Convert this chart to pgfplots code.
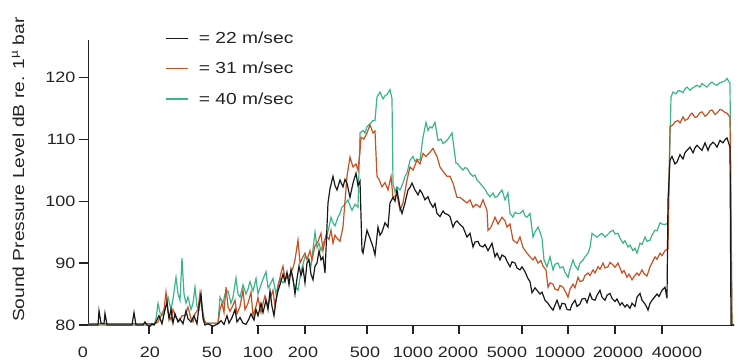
\documentclass[border=0pt]{standalone}
\usepackage{fontspec}
\setmainfont{Liberation Sans}[FakeStretch=1.2]
\usepackage{pgfplots}
\pgfplotsset{compat=1.18}
\definecolor{cblack}{RGB}{25,25,25}
\definecolor{corange}{RGB}{200,80,35}
\definecolor{cgreen}{RGB}{60,180,140}
\definecolor{ctext}{RGB}{35,35,35}
\begin{document}
\begin{tikzpicture}
\path[use as bounding box] (-88pt,-35pt) rectangle (651pt,325pt);
\begin{axis}[
  at={(0pt,0pt)}, anchor=south west,
  scale only axis, width=647pt, height=285pt,
  xmin=0, xmax=647, ymin=80, ymax=126,
  clip=false,
  axis x line*=bottom, axis y line*=left,
  axis line style={line width=0.9pt, ctext},
  x axis line style={draw=none},
  xtick pos=bottom, ytick pos=left,
  tick align=outside, major tick length=9pt,
  every tick/.style={line width=1pt, draw=ctext},
  xtick style={draw=ctext, line width=1.1pt},
  ytick style={draw=ctext, line width=1.1pt},
  ytick={80,90,100,110,120},
  yticklabel style={anchor=east},
  xtick={61,124,170,217,279,325,371,434,480,527,574},
  xticklabels={},
  extra x ticks={0,62,124,170,215,277,325,370,419,472,530,589},
  extra x tick labels={\hbox to 0pt{\hss 0\hskip 10pt\hss},20,50,100,200,500,1000,2000,5000,10000,20000,40000},
  extra x tick style={major tick length=0pt, xticklabel style={yshift=-18pt}},
  tick label style={font=\fontsize{15}{17}\selectfont, text=ctext},
  /pgf/number format/assume math mode=true,
  ylabel={Sound Pressure Level dB re. 1\textsuperscript{µ} bar},
  ylabel style={at={(axis description cs:-0.108,0.545)}, anchor=center, font=\fontsize{16}{18}\selectfont, text=ctext},
  legend style={at={(0.12,1.035)}, anchor=north west, draw=none, fill=none, inner sep=0pt,
    row sep=13pt, font=\fontsize{16}{18}\selectfont, text=ctext},
  legend cell align=left,
  reverse legend,
  legend image code/.code={\draw[#1, line width=1.1pt] (0pt,0pt) -- (22pt,0pt);},
  /tikz/every odd column/.append style={column sep=8pt},
]
\addplot[cgreen, line width=1.2pt] coordinates {
(0,80) (66,80) (68,81) (70,83.5) (72,82) (75,81.5) (78,83) (80,84.5) (83,82.5) (85,84.2) (88,87.7) (90,85) (92,84) (94,90.8) (96,85) (98,83.5) (100,84.5) (103,82.5) (105,83.5) (107,86.1) (109,83) (111,82.5) (113,84.5) (115,82) (117,80.3) (130,80.3) (132,84.5) (135,83.5) (137,85) (140,85.5) (143,83.5) (145,84.5) (148,87.6) (150,85) (152,84.5) (155,86.5) (158,85) (160,85.8) (162,87) (165,85.5) (168,87.5) (170,85) (173,86.5) (175,87.4) (178,88.6) (180,86) (182,86.5) (185,87.5) (188,85) (190,86.5) (192,87.5) (195,86.8) (198,87.5) (200,87.5) (203,88.6) (206,86.5) (210,85.6) (213,88.6) (217,91) (220,90.8) (223,89.5) (227,95) (229,92.5) (231,93.2) (233,92) (236,93.5) (239,94.5) (241,95.8) (243,97.4) (245,96.5) (247,96) (250,97.4) (252,98) (254,99) (257,99.5) (260,100.2) (262,99.3) (264,98.5) (267,99.5) (270,99) (272,111) (275,111.4) (277,111) (279,112) (282,112.5) (285,113) (287,113) (289,116.8) (292,117.6) (295,116.5) (297,117) (299,117.2) (302,118) (304,116.5) (305,102.9) (307,101.5) (309,102.3) (312,101.8) (315,102.9) (317,104) (319,104.5) (322,106.6) (325,107.2) (327,106.4) (329,106.8) (332,106.6) (335,110.3) (338,112.7) (340,111.4) (342,112) (344,111.8) (347,112.7) (350,109.8) (353,110) (355,109.3) (357,109.5) (360,110) (362,110.5) (364,111) (366,108.5) (368,106.1) (370,106) (372,105.5) (375,105) (377,105.4) (379,105.3) (382,104.5) (385,104) (387,104.2) (389,103.4) (392,102.9) (395,102.3) (397,101.9) (399,101.3) (402,100.7) (405,101.3) (407,100.6) (409,100.7) (412,101.4) (414,101.8) (417,100.2) (420,101.3) (422,98) (425,97.4) (427,98.2) (429,98) (432,98) (435,98.5) (437,97.6) (439,97.4) (442,98) (445,94.2) (447,95) (450,95.8) (452,95) (454,94) (456,90.5) (459,89.4) (462,91) (465,88.9) (467,89.8) (470,90) (472,89.2) (475,89.4) (477,88.5) (480,87.7) (482,89) (485,90.5) (487,89.6) (490,88.9) (492,90) (495,90.5) (497,91) (500,91.6) (502,92.5) (504,94.8) (507,94.4) (509,94.2) (512,94.6) (514,94.8) (517,94.2) (519,94.5) (522,95) (525,95.3) (527,94.7) (530,94.8) (532,94) (535,93.2) (537,93.6) (540,92.6) (542,92.9) (545,92) (547,92.4) (549,91.6) (552,93.2) (554,93) (557,94.2) (559,93.5) (562,93.7) (564,94.5) (567,95.3) (569,95.2) (572,96.5) (574,96.3) (577,96.2) (580,96.5) (583,116.8) (585,117.6) (588,117.3) (590,117.8) (592,117.8) (595,117.5) (597,118.1) (599,118.4) (602,117.9) (604,118.2) (607,118.5) (609,118.7) (612,118.4) (614,119) (617,118.6) (619,118.4) (622,119) (624,119.2) (627,118.8) (629,118.7) (632,119.1) (634,119.2) (637,119.4) (639,119.8) (642,119) (644,80) (646,80)
};
\addlegendentry{= 40 m/sec}
\addplot[corange, line width=1.2pt] coordinates {
(0,80.2) (66,80.2) (68,80.3) (70,80.5) (73,81.5) (76,82.5) (78,85.3) (80,82) (83,80.8) (85,82.5) (88,81.2) (91,80.6) (94,81.5) (97,81.5) (100,82.9) (103,81) (105,80.5) (107,81.8) (110,82.5) (112,85.2) (114,82.5) (116,80.8) (118,80.3) (130,80.3) (132,82.5) (134,83.5) (136,82) (138,86.1) (140,83) (142,82.2) (145,83.2) (147,84) (149,81.8) (152,83) (155,85.6) (157,82.5) (160,83.5) (163,85.3) (165,81.5) (168,83) (170,84.4) (173,82) (175,83.5) (177,84.7) (180,83) (182,84.2) (185,85.6) (187,83) (190,86) (193,88.4) (195,89.5) (197,87.5) (200,87.7) (203,88.5) (205,89.2) (207,90.5) (210,93.7) (212,90) (215,91) (217,91.6) (219,90.5) (222,92) (224,90.5) (227,92.8) (230,93.5) (233,94.8) (235,92) (238,94.5) (241,93.8) (243,95.3) (245,93.2) (247,94.5) (249,94) (252,93.5) (255,95.8) (257,100) (259,104) (262,107.1) (265,105.5) (268,106) (270,105) (272,108) (273,110.3) (276,110) (279,111) (282,112.3) (285,111) (287,111.3) (289,104) (291,103.5) (294,102.3) (297,103) (300,101.8) (303,104) (305,100.6) (309,101) (312,98.5) (315,99.7) (319,103.4) (322,105.5) (325,105) (329,106.6) (332,106) (335,107.7) (338,107.2) (342,107.9) (345,108.5) (349,107.2) (352,105.5) (355,104.8) (359,104) (362,104) (365,102.9) (369,100.6) (372,100.6) (375,100.2) (379,99.7) (382,100.2) (385,99) (388,99.5) (392,99) (395,100.2) (399,98.5) (400,95.3) (403,95.8) (407,97.4) (410,96.3) (414,97.4) (417,96.8) (419,95.8) (422,96.3) (425,93.7) (429,93.2) (432,94.2) (435,92.5) (439,91.6) (442,91) (445,90.5) (447,91) (450,90) (453,90.4) (455,89.5) (458,88.9) (460,86.1) (462,86.8) (465,86.6) (467,85.8) (470,85.6) (472,86.4) (475,86.1) (478,85.2) (480,84.5) (482,85.8) (485,86.6) (487,86) (490,87.7) (492,87) (495,87.2) (497,88) (500,88.4) (502,88) (505,88.9) (507,88.4) (510,89.4) (512,89) (515,90) (517,89.2) (520,89.4) (522,90.1) (525,89.7) (527,89.3) (530,90) (532,89.2) (534,88.4) (536,88.8) (539,87.7) (541,88.2) (544,87.3) (546,87.8) (549,88.4) (551,88) (554,88.9) (556,88.3) (559,87.9) (562,89.4) (564,90) (567,91) (569,90.6) (572,91.6) (574,91.2) (577,92) (580,92.3) (582,112) (585,112.3) (587,112.8) (590,113) (592,112.6) (595,113.6) (597,113) (600,113.3) (602,113.9) (604,114.2) (607,113.5) (609,113.6) (612,114.3) (614,114.4) (617,113.7) (619,113.9) (622,114.6) (624,114.7) (627,114) (629,114.2) (632,114.8) (634,114.7) (637,114.3) (639,114.2) (642,113.5) (644,80) (646,80)
};
\addlegendentry{= 31 m/sec}
\addplot[cblack, line width=1.2pt] coordinates {
(0,80) (10,80) (11,82.3) (13,80.3) (16,80.2) (17,81.9) (19,80) (44,80) (46,82) (48,80) (55,80) (57,80.5) (59,80) (62,79.8) (64,80.2) (66,80) (68,80.5) (71,81.5) (74,80.2) (77,82.5) (79,83.7) (81,81) (83,82.5) (85,80.3) (87,81.8) (90,80.5) (92,81) (95,80.2) (98,82.3) (100,81) (103,80.5) (106,81.5) (109,80.2) (111,83) (113,85) (115,81) (117,80) (120,80.2) (125,79.8) (130,80.2) (133,80.7) (136,80.1) (139,81.5) (141,80.3) (144,81.2) (147,82.5) (149,80.5) (152,81.2) (155,80.3) (158,80.1) (161,81) (163,81.8) (166,80.8) (168,82.5) (170,81.5) (173,83.5) (175,82) (178,84) (180,82.5) (182,85.5) (184,83) (186,81.5) (188,84) (190,85.5) (192,86.5) (195,88.2) (197,87) (199,88.5) (201,86.5) (203,89) (205,87.5) (207,85) (209,87.5) (211,89.5) (213,88) (215,89.2) (217,86.8) (219,90) (221,90.5) (223,88.2) (225,87.3) (227,89.5) (229,90) (231,92) (233,90.5) (235,91) (237,88.4) (240,99.7) (242,102) (245,104) (247,102.5) (249,101.8) (252,103.4) (255,102.3) (257,103.5) (259,102.9) (262,100.6) (265,102.9) (268,104.5) (270,102.5) (272,103.2) (274,92) (275,91.6) (277,93.5) (279,95.3) (282,94) (285,92.6) (287,91.3) (290,95.8) (292,94.5) (294,95) (297,96.5) (300,95.8) (302,99.7) (305,100.6) (307,100) (309,101.8) (312,99) (314,98) (317,99.7) (320,101.8) (322,102.2) (324,102.9) (327,101.8) (330,101) (332,101.8) (334,101.3) (337,100.2) (340,100.7) (342,99.8) (345,99) (347,99.6) (349,98) (352,97.5) (355,98.4) (357,98) (360,97.8) (362,97.5) (365,95.8) (367,96.5) (369,96.8) (372,96.2) (375,95.8) (377,95) (379,94.2) (382,94.8) (385,92.6) (387,93.4) (390,93.5) (392,92.8) (395,92.6) (397,93) (400,92) (404,93.2) (407,91) (409,91.6) (412,90.5) (414,91.3) (417,91) (419,90.3) (422,89.4) (424,90.2) (427,90) (429,89.2) (432,88.9) (434,89.4) (437,88.6) (440,87.5) (442,87) (444,85.2) (447,86) (449,85.6) (452,85) (454,85.3) (457,84) (460,83.5) (462,83) (465,82.4) (467,83.2) (469,84) (472,82.6) (474,83.5) (477,83.4) (479,82.5) (482,82.4) (484,83.3) (487,84) (489,83) (492,83.4) (494,84.2) (497,84.3) (499,83.6) (502,85.1) (504,84.2) (507,84) (509,84.8) (512,85.6) (514,84.5) (517,84) (519,84.8) (522,85.1) (524,84.3) (527,83.8) (529,84.2) (532,83.2) (534,83.6) (537,82.9) (539,83.3) (542,82.7) (544,83.5) (547,83) (549,84.5) (552,85.1) (554,84) (557,83.4) (559,82.8) (560,82.4) (562,83.5) (564,84) (567,84.6) (569,85) (571,84.6) (574,85.6) (577,86.1) (579,84.3) (580,100.2) (582,106.6) (584,107.2) (585,106.8) (587,106) (589,106.3) (592,107.5) (594,107) (595,106.8) (597,107.8) (599,108.2) (602,108.7) (605,107.8) (607,108.6) (609,109) (612,108.5) (614,108.2) (617,109.4) (620,108.2) (622,109) (625,109.5) (627,109.2) (629,108.7) (632,109.8) (635,109.4) (637,109.9) (639,110.2) (642,108.7) (643,80) (646,80)
};
\addlegendentry{= 22 m/sec}
\draw[line width=0.9pt, ctext] (axis cs:168,79.85) -- (axis cs:646,79.85);
\end{axis}
\end{tikzpicture}
\end{document}
